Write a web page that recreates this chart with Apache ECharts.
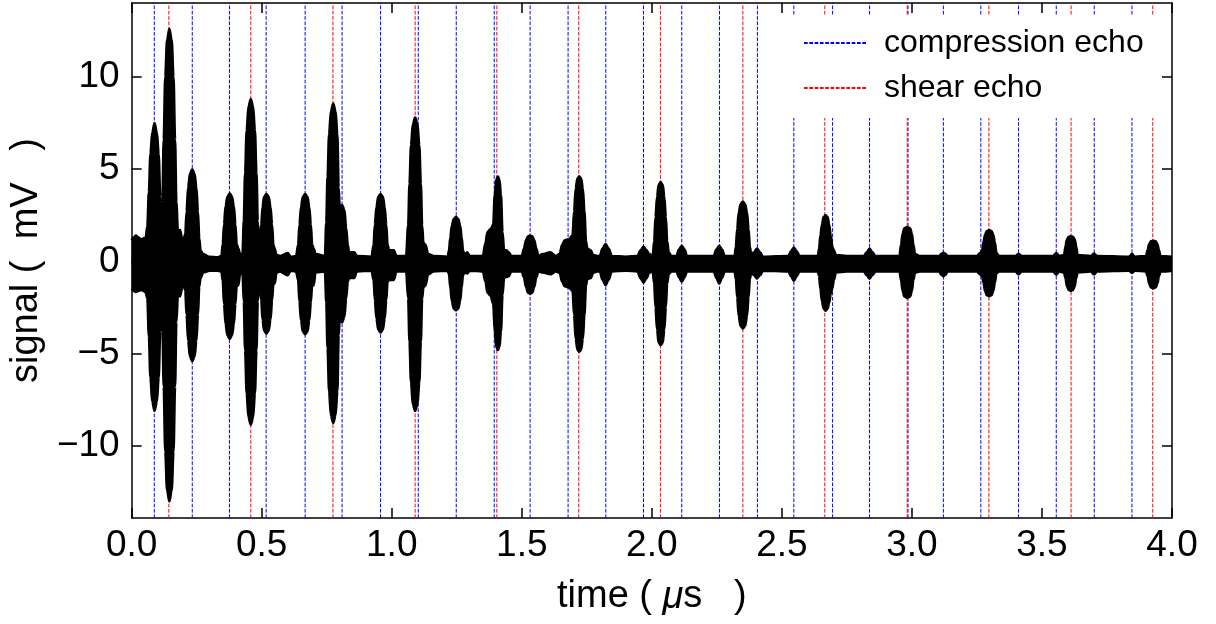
<!DOCTYPE html>
<html>
<head>
<meta charset="utf-8">
<script src="https://cdn.jsdelivr.net/npm/echarts@6/dist/echarts.min.js"></script>
<style>
html,body{margin:0;padding:0;background:#fff;}
#chart{width:1216px;height:624px;}
</style>
</head>
<body>
<div id="chart"></div>
<script>
// ---- data ----
// compression echo times (µs)
const compressionEchoes = [0.087, 0.233, 0.376, 0.517, 0.667, 0.809, 0.957, 1.102, 1.248, 1.394, 1.532, 1.678, 1.823, 1.968, 2.115, 2.260, 2.406, 2.546, 2.695, 2.837, 2.985, 3.121, 3.265, 3.410, 3.555, 3.701, 3.846];
// shear echo times (µs)
const shearEchoes = [0.143, 0.458, 0.774, 1.090, 1.404, 1.719, 2.033, 2.350, 2.665, 2.982, 3.296, 3.612, 3.926];
// x tick labels and y tick values
const xTicks = [0.0, 0.5, 1.0, 1.5, 2.0, 2.5, 3.0, 3.5, 4.0];
const yTicks = [-10, -5, 0, 5, 10];
// axis ranges
const xRange = [0, 4];
const yRange = [-13.9, 14.0];
// signal envelope: [time µs, upper mV, lower mV]
const signalEnvelope = [
[0.000,1.15,-1.5],[0.008,1.3,-1.6],[0.016,1.4,-1.65],[0.026,1.3,-1.6],[0.036,1.2,-1.55],[0.046,1.25,-1.6],[0.054,1.3,-1.7],
[0.060,1.9,-2.0],[0.066,3.75,-4.05],[0.072,5.8,-6.3],[0.079,7.0,-7.6],[0.088,7.5,-8.1],[0.097,7.0,-7.6],[0.104,5.8,-6.3],[0.110,3.5,-3.8],[0.114,2.0,-1.6],
[0.118,3.2,-3.3],[0.123,6.6,-6.8],[0.129,10.0,-10.3],[0.136,12.0,-12.4],[0.145,12.6,-13.0],[0.154,12.0,-12.4],[0.161,10.0,-10.3],[0.167,6.6,-6.8],[0.172,3.2,-3.3],
[0.178,1.6,-1.8],[0.186,1.7,-1.9],[0.195,1.2,-1.4],
[0.201,1.25,-1.35],[0.206,1.5,-1.6],[0.211,2.7,-2.9],[0.217,4.0,-4.3],[0.224,4.75,-5.15],[0.233,5.0,-5.4],[0.242,4.75,-5.15],[0.249,4.0,-4.3],[0.255,2.7,-2.9],[0.260,1.25,-1.35],
[0.265,0.6,-0.9],[0.275,0.4,-0.6],[0.300,0.25,-0.5],[0.330,0.22,-0.5],
[0.345,0.3,-0.55],[0.350,0.93,-1.05],[0.355,2.0,-2.3],[0.361,3.0,-3.4],[0.368,3.5,-4.0],[0.377,3.7,-4.2],[0.386,3.5,-4.0],[0.393,3.0,-3.4],[0.399,2.0,-2.3],[0.404,0.93,-1.3],
[0.410,0.7,-1.3],[0.417,0.4,-0.7],
[0.426,0.4,-0.6],[0.431,2.2,-2.2],[0.436,4.8,-4.8],[0.442,7.1,-7.15],[0.449,8.4,-8.45],[0.458,8.8,-8.85],[0.467,8.4,-8.45],[0.474,7.1,-7.15],[0.480,4.8,-4.8],[0.485,2.2,-2.2],
[0.489,0.8,-1.0],[0.493,1.3,-1.4],[0.498,2.0,-2.1],[0.503,2.95,-3.15],[0.509,3.5,-3.75],[0.518,3.65,-3.9],[0.527,3.5,-3.75],[0.534,2.95,-3.15],[0.540,2.0,-2.1],[0.545,0.9,-1.2],
[0.550,0.7,-1.2],[0.557,0.35,-0.6],[0.570,0.3,-0.55],[0.600,0.45,-0.75],[0.612,0.25,-0.5],
[0.632,0.3,-0.55],[0.640,0.9,-1.0],[0.645,2.0,-2.2],[0.651,2.95,-3.2],[0.658,3.5,-3.8],[0.667,3.65,-3.95],[0.676,3.5,-3.8],[0.683,2.95,-3.2],[0.689,2.0,-2.2],[0.694,0.9,-1.3],
[0.700,0.7,-1.3],[0.707,0.4,-0.6],
[0.743,0.3,-0.55],[0.748,2.1,-2.2],[0.753,4.6,-4.7],[0.759,6.9,-7.05],[0.766,8.15,-8.35],[0.775,8.55,-8.75],[0.784,8.15,-8.35],[0.791,6.9,-7.05],[0.796,4.0,-4.0],
[0.800,2.9,-3.1],[0.809,3.05,-3.3],[0.818,2.8,-3.0],[0.825,1.8,-2.0],[0.831,0.9,-1.1],[0.836,0.5,-0.9],[0.856,0.5,-0.9],[0.866,0.3,-0.55],
[0.922,0.25,-0.5],[0.930,0.9,-1.0],[0.935,2.0,-2.1],[0.941,2.95,-3.1],[0.948,3.5,-3.7],[0.957,3.65,-3.85],[0.966,3.5,-3.7],[0.973,2.95,-3.1],[0.979,2.0,-2.1],[0.984,0.9,-1.1],
[0.990,0.6,-1.0],[1.008,0.6,-1.0],[1.018,0.3,-0.55],
[1.055,0.3,-0.55],[1.063,1.95,-2.0],[1.068,4.2,-4.35],[1.074,6.3,-6.55],[1.081,7.45,-7.75],[1.090,7.8,-8.1],[1.099,7.45,-7.75],[1.106,6.3,-6.55],[1.112,4.2,-4.35],[1.117,1.95,-2.0],
[1.122,1.0,-1.4],[1.130,0.9,-1.3],[1.140,0.4,-0.7],[1.160,0.3,-0.55],
[1.215,0.25,-0.5],[1.220,0.6,-0.7],[1.225,1.3,-1.4],[1.231,1.95,-2.15],[1.238,2.3,-2.55],[1.247,2.4,-2.65],[1.256,2.3,-2.55],[1.263,1.95,-2.15],[1.269,1.3,-1.4],[1.274,0.6,-0.75],
[1.280,0.35,-0.6],[1.290,0.5,-0.65],[1.300,0.3,-0.5],
[1.350,0.3,-0.55],[1.360,1.0,-1.1],[1.368,1.6,-1.7],[1.380,1.75,-1.85],[1.390,2.0,-2.3],[1.396,3.6,-3.8],[1.402,4.45,-4.65],[1.408,4.6,-4.8],[1.414,4.45,-4.65],[1.420,3.6,-3.8],[1.426,1.6,-1.8],
[1.432,0.6,-0.9],[1.440,0.6,-0.85],[1.450,0.5,-0.8],[1.460,0.3,-0.55],
[1.500,0.3,-0.55],[1.508,0.7,-0.85],[1.516,1.15,-1.4],[1.524,1.37,-1.7],[1.532,1.4,-1.75],[1.540,1.37,-1.7],[1.548,1.15,-1.4],[1.556,0.7,-0.85],[1.564,0.3,-0.55],
[1.580,0.4,-0.6],[1.610,0.5,-0.7],[1.630,0.3,-0.55],
[1.645,0.4,-0.6],[1.655,0.9,-1.1],[1.665,1.15,-1.35],[1.680,1.2,-1.4],[1.695,1.4,-1.6],[1.701,2.7,-2.9],[1.707,3.95,-4.2],[1.714,4.5,-4.8],[1.721,4.6,-4.9],[1.728,4.5,-4.8],[1.735,3.95,-4.2],[1.741,2.7,-2.9],[1.747,1.1,-1.3],
[1.752,0.7,-0.95],[1.765,0.6,-0.9],[1.775,0.35,-0.6],[1.790,0.3,-0.55],
[1.800,0.3,-0.55],[1.810,0.7,-1.0],[1.822,0.95,-1.28],[1.834,0.7,-1.0],[1.846,0.3,-0.55],[1.900,0.25,-0.5],
[1.945,0.3,-0.55],[1.956,0.6,-0.9],[1.968,0.8,-1.15],[1.980,0.6,-0.9],[1.990,0.4,-0.6],
[2.003,0.3,-0.55],[2.009,1.1,-1.2],[2.014,2.4,-2.5],[2.020,3.5,-3.7],[2.026,4.15,-4.4],[2.034,4.3,-4.53],[2.042,4.15,-4.4],[2.048,3.5,-3.7],[2.054,2.4,-2.5],[2.059,1.1,-1.2],
[2.065,0.5,-0.7],[2.075,0.3,-0.55],
[2.095,0.3,-0.55],[2.104,0.65,-0.85],[2.115,0.85,-1.1],[2.126,0.65,-0.85],[2.135,0.3,-0.55],
[2.238,0.3,-0.55],[2.248,0.65,-0.9],[2.259,0.85,-1.2],[2.270,0.65,-0.9],[2.280,0.3,-0.55],
[2.318,0.3,-0.55],[2.323,0.8,-0.95],[2.328,1.75,-1.95],[2.334,2.65,-2.95],[2.341,3.1,-3.5],[2.350,3.25,-3.63],[2.359,3.1,-3.5],[2.366,2.65,-2.95],[2.372,1.75,-1.95],[2.377,0.8,-0.95],
[2.382,0.4,-0.6],[2.393,0.5,-0.75],[2.404,0.7,-0.92],[2.416,0.5,-0.75],[2.428,0.25,-0.5],
[2.525,0.3,-0.55],[2.535,0.55,-0.8],[2.546,0.75,-1.05],[2.557,0.55,-0.8],[2.568,0.3,-0.55],
[2.638,0.3,-0.55],[2.643,0.7,-0.8],[2.648,1.4,-1.5],[2.654,2.0,-2.15],[2.660,2.4,-2.55],[2.668,2.5,-2.67],[2.676,2.4,-2.55],[2.682,2.0,-2.25],[2.688,1.4,-1.75],[2.694,0.8,-1.45],
[2.700,0.6,-1.0],[2.708,0.35,-0.6],[2.750,0.3,-0.55],
[2.815,0.3,-0.55],[2.826,0.5,-0.75],[2.837,0.7,-0.92],[2.848,0.5,-0.75],[2.860,0.3,-0.55],
[2.952,0.3,-0.55],[2.958,0.9,-1.0],[2.964,1.5,-1.6],[2.971,1.8,-1.9],[2.982,1.87,-1.97],[2.993,1.8,-1.9],[3.000,1.5,-1.6],[3.006,0.9,-1.0],[3.012,0.4,-0.6],[3.030,0.3,-0.55],
[3.105,0.3,-0.55],[3.113,0.42,-0.72],[3.121,0.47,-0.8],[3.129,0.42,-0.72],[3.137,0.3,-0.55],
[3.250,0.3,-0.55],[3.262,0.45,-0.7],[3.270,0.6,-0.8],[3.275,1.05,-1.15],[3.281,1.45,-1.6],[3.288,1.65,-1.83],[3.297,1.7,-1.88],[3.306,1.65,-1.83],[3.313,1.45,-1.6],[3.319,1.05,-1.15],[3.325,0.45,-0.65],[3.335,0.3,-0.55],
[3.398,0.3,-0.55],[3.410,0.42,-0.7],[3.422,0.3,-0.55],
[3.543,0.3,-0.55],[3.555,0.45,-0.72],[3.567,0.3,-0.55],
[3.585,0.35,-0.6],[3.590,0.8,-0.9],[3.596,1.2,-1.35],[3.603,1.34,-1.55],[3.611,1.37,-1.59],[3.619,1.34,-1.55],[3.626,1.2,-1.35],[3.632,0.8,-0.9],[3.637,0.35,-0.6],
[3.688,0.3,-0.55],[3.700,0.43,-0.7],[3.712,0.3,-0.55],
[3.834,0.25,-0.5],[3.846,0.4,-0.62],[3.858,0.25,-0.5],
[3.900,0.3,-0.55],[3.906,0.6,-0.8],[3.912,0.95,-1.2],[3.919,1.09,-1.41],[3.928,1.12,-1.46],[3.937,1.09,-1.41],[3.944,0.95,-1.2],[3.950,0.6,-0.8],[3.956,0.3,-0.55],[4.000,0.25,-0.5]
];

// ---- chart ----
const FONT = 'Liberation Sans';
const upper = signalEnvelope.map(p => [p[0], p[1]]);
const lower = signalEnvelope.map(p => [p[0], p[2]]);
// vertical echo markers as broken polylines spanning the y range
const verticalLines = ts => {
  const out = [];
  ts.forEach(t => { out.push([t, yRange[0]], [t, yRange[1]], ['-', '-']); });
  return out;
};
const fmtY = v => (v < 0 ? '\u2212' + Math.abs(v) : String(v));

const baseX = {
  type: 'value', min: xRange[0], max: xRange[1], interval: 0.5,
  axisLine: { show: true, onZero: false, lineStyle: { color: '#000', width: 1.5 } },
  axisTick: { show: true, inside: true, length: 10, lineStyle: { color: '#000', width: 1.5 } },
  splitLine: { show: false }
};
const baseY = {
  type: 'value', min: yRange[0], max: yRange[1],
  axisLine: { show: true, onZero: false, lineStyle: { color: '#000', width: 1.5 } },
  axisTick: { show: true, inside: true, length: 10, customValues: yTicks, lineStyle: { color: '#000', width: 1.5 } },
  splitLine: { show: false }
};
const dash = [3.7, 1.6];

const chart = echarts.init(document.getElementById('chart'), null, { renderer: 'canvas' });
chart.setOption({
  animation: false,
  backgroundColor: '#fff',
  grid: { left: 130, top: 3, right: 44, bottom: 106, containLabel: false },
  xAxis: [
    Object.assign({}, baseX, {
      position: 'bottom',
      axisLabel: { show: true, margin: 9, fontFamily: FONT, fontSize: 37, color: '#000',
        customValues: xTicks, formatter: v => v.toFixed(1) },
      name: '{n|time ( }{i|\u03bc}{n|s   )}',
      nameLocation: 'middle', nameGap: 60,
      nameTextStyle: { rich: {
        n: { fontFamily: FONT, fontSize: 38, color: '#000' },
        i: { fontFamily: FONT, fontSize: 38, color: '#000', fontStyle: 'italic' }
      } }
    }),
    Object.assign({}, baseX, { position: 'top', axisLabel: { show: false } })
  ],
  yAxis: [
    Object.assign({}, baseY, {
      position: 'left',
      axisLabel: { show: true, margin: 12, fontFamily: FONT, fontSize: 37, color: '#000',
        customValues: yTicks, formatter: fmtY },
      name: 'signal (  mV   )',
      nameLocation: 'middle', nameGap: 75,
      nameTextStyle: { fontFamily: FONT, fontSize: 38, color: '#000' }
    }),
    Object.assign({}, baseY, { position: 'right', axisLabel: { show: false } })
  ],
  legend: {
    data: ['compression echo', 'shear echo'],
    orient: 'vertical', left: 790, top: 15,
    backgroundColor: '#fff', borderWidth: 0,
    padding: [11, 18, 13, 13],
    itemWidth: 63, itemHeight: 14, itemGap: 11,
    itemStyle: { opacity: 0 },
    textStyle: { fontFamily: FONT, fontSize: 32, color: '#000', lineHeight: 34, padding: [0, 0, 0, 12] },
    z: 10
  },
  series: [
    {
      name: 'compression echo', type: 'line', data: verticalLines(compressionEchoes),
      symbol: 'none', showSymbol: false, z: 1, silent: true, connectNulls: false,
      lineStyle: { color: '#0000ff', width: 1, type: dash },
      itemStyle: { color: '#0000ff' }
    },
    {
      name: 'shear echo', type: 'line', data: verticalLines(shearEchoes),
      symbol: 'none', showSymbol: false, z: 1, silent: true, connectNulls: false,
      lineStyle: { color: '#ff0000', width: 1, type: dash },
      itemStyle: { color: '#ff0000' }
    },
    {
      name: 'signal upper', type: 'line', data: upper, symbol: 'none', z: 3,
      smooth: 0.35, smoothMonotone: 'x',
      lineStyle: { color: '#000', width: 2.5 },
      areaStyle: { color: '#000', opacity: 1, origin: -0.2 },
      silent: true
    },
    {
      name: 'signal lower', type: 'line', data: lower, symbol: 'none', z: 3,
      smooth: 0.35, smoothMonotone: 'x',
      lineStyle: { color: '#000', width: 2.5 },
      areaStyle: { color: '#000', opacity: 1, origin: 0.2 },
      silent: true
    }
  ]
});
</script>
</body>
</html>
